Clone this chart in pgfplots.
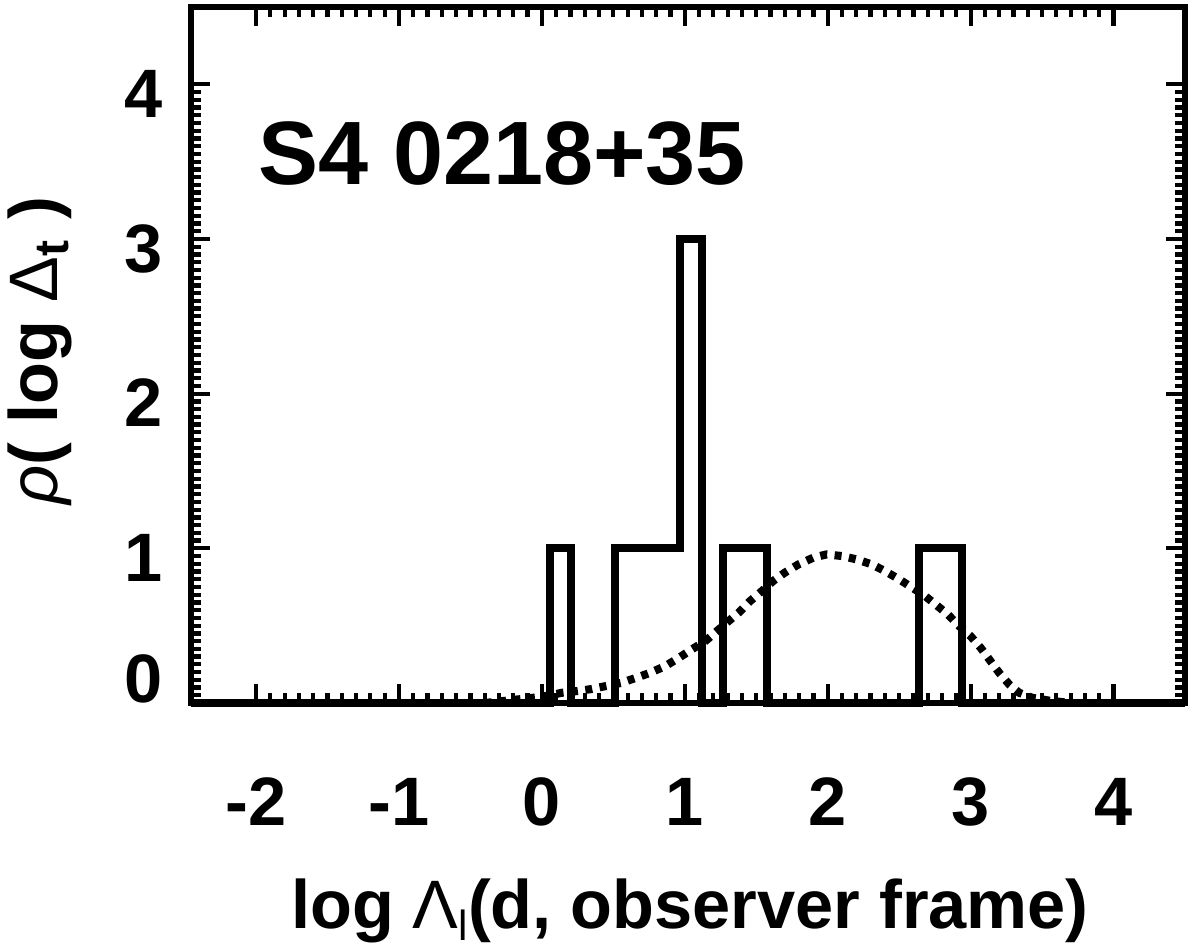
\documentclass[border=0pt]{standalone}
\usepackage{fontspec}
\setmainfont{Liberation Sans}
\usepackage{pgfplots}
\pgfplotsset{compat=1.18}

\begin{document}
\begin{tikzpicture}
  \begin{axis}[
      scale only axis,
      width=9.94cm, height=6.96cm,
      xmin=-2.455, xmax=4.5, ymin=0, ymax=4.5,
      axis line style={line width=1.6pt},
      xtick={-2,...,4}, xticklabels={-2,-1,0,1,2,3,4},
      ytick={0,...,4}, yticklabels={\raisebox{0.33cm}{0},1,2,3,4},
      minor x tick num=9, minor y tick num=19,
      tick align=inside,
      major tick length=0.19cm, minor tick length=0.1cm,
      every tick/.style={black, line width=1.2pt},
      ticklabel style={font=\fontsize{19.5}{20}\selectfont\bfseries, inner sep=0pt},
      xticklabel style={anchor=base, yshift=-1.22cm},
      yticklabel style={anchor=base east, xshift=-0.28cm, yshift=-0.33cm},
      clip=false]

    % histogram of log timescales
    \addplot[const plot, line width=2.3pt, line join=miter, mark=none] coordinates {
      (-2.455,0) (0.054,1) (0.206,0) (0.510,1) (0.966,3) (1.118,0)
      (1.270,1) (1.574,0) (2.638,1) (2.942,0) (4.5,0)};

    % dotted density curve
    \addplot[line width=2.3pt, dash pattern=on 0.07cm off 0.075cm, mark=none] coordinates {
      (-0.40,0.0) (-0.20,0.02) (0.0,0.04) (0.14,0.066) (0.235,0.076) (0.345,0.09)
      (0.45,0.11) (0.555,0.13) (0.66,0.163) (0.757,0.195) (0.862,0.238) (0.955,0.29)
      (1.048,0.346) (1.143,0.40) (1.225,0.465) (1.307,0.53) (1.377,0.584) (1.458,0.66)
      (1.54,0.724) (1.62,0.79) (1.70,0.843) (1.795,0.896) (1.90,0.94) (1.993,0.961)
      (2.10,0.95) (2.20,0.929) (2.31,0.896) (2.40,0.853) (2.50,0.80) (2.59,0.746)
      (2.67,0.70) (2.755,0.637) (2.84,0.573) (2.92,0.497) (3.0,0.432) (3.07,0.357)
      (3.14,0.27) (3.20,0.195) (3.27,0.12) (3.34,0.066) (3.43,0.034) (3.55,0.015)
      (3.70,0.0)};

    \node[anchor=base west, inner sep=0pt, font=\fontsize{25.6}{26}\selectfont\bfseries]
      at (axis cs:-1.99,3.355) {S4 0218+35};

    \node[anchor=base, inner sep=0pt, font=\fontsize{19.5}{20}\selectfont]
      at ([yshift=-2.25cm]rel axis cs:0.502,0)
      {\textbf{log }Λ\raisebox{-0.18em}{\fontsize{12}{12}\selectfont l}\textbf{(d, observer frame)}};

    \node[rotate=90, anchor=center, inner sep=0pt, font=\fontsize{19.5}{20}\selectfont]
      at ([xshift=-1.51cm]rel axis cs:0,0.506)
      {\textit{ρ}\textbf{( log }Δ\textsubscript{\textbf{t}}\textbf{ )}};
  \end{axis}
  \pgfresetboundingbox
  \path[use as bounding box] ([shift={(-1.91cm,-2.49cm)}]current axis.south west)
    rectangle ([shift={(0.15cm,0.07cm)}]current axis.north east);
\end{tikzpicture}
\end{document}
